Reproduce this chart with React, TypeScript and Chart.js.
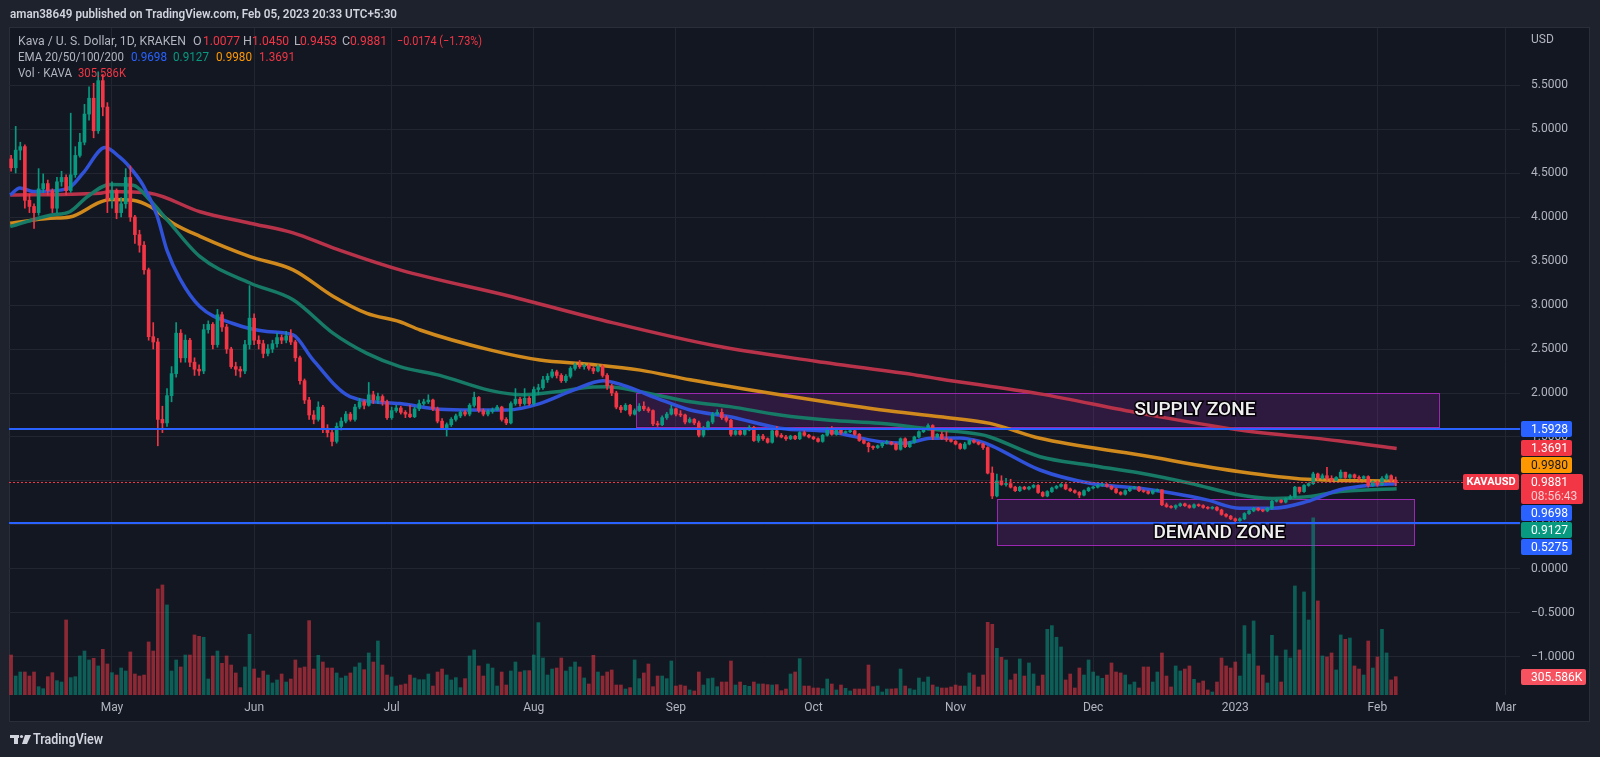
import React, { useEffect, useRef } from "react";
import { Chart, registerables } from "chart.js";
Chart.register(...registerables);

// ---- Daily candles, day 0 = 2022-04-09 ----
const firstOpen = 4.66;
const closes = [
  4.56, 4.76, 4.80, 4.19, 4.12, 4.05, 4.32, 4.38, 4.30, 4.10,
  4.40, 4.45, 4.30, 4.48, 4.70, 4.85, 5.17, 5.35, 4.98, 5.55,
  5.25, 4.20, 4.30, 4.05, 4.15, 4.45, 4.00, 3.80, 3.68, 3.40,
  2.64, 2.58, 1.70, 1.66, 1.97, 2.22, 2.68, 2.40, 2.60, 2.35,
  2.27, 2.25, 2.72, 2.78, 2.55, 2.89, 2.75, 2.50, 2.30, 2.27,
  2.25, 2.55, 2.85, 2.60, 2.56, 2.45, 2.50, 2.56, 2.63, 2.60,
  2.65, 2.58, 2.40, 2.14, 1.92, 1.75, 1.70, 1.84, 1.60, 1.55,
  1.45, 1.62, 1.68, 1.76, 1.70, 1.84, 1.90, 1.86, 1.98, 1.92,
  1.96, 1.90, 1.72, 1.80, 1.83, 1.78, 1.76, 1.73, 1.82, 1.88,
  1.90, 1.92, 1.82, 1.68, 1.60, 1.64, 1.70, 1.74, 1.78, 1.76,
  1.86, 1.95, 1.80, 1.76, 1.79, 1.81, 1.84, 1.70, 1.66, 1.88,
  1.93, 1.88, 1.94, 1.88, 2.04, 2.06, 2.15, 2.19, 2.24, 2.20,
  2.14, 2.19, 2.28, 2.32, 2.30, 2.31, 2.28, 2.25, 2.30, 2.20,
  2.08, 2.00, 1.84, 1.81, 1.86, 1.76, 1.80, 1.85, 1.82, 1.80,
  1.65, 1.64, 1.72, 1.76, 1.82, 1.76, 1.75, 1.67, 1.70, 1.66,
  1.52, 1.60, 1.67, 1.76, 1.78, 1.72, 1.69, 1.53, 1.57, 1.53,
  1.58, 1.61, 1.46, 1.51, 1.48, 1.44, 1.57, 1.52, 1.50, 1.48,
  1.51, 1.48, 1.55, 1.52, 1.50, 1.48, 1.45, 1.52, 1.59, 1.53,
  1.58, 1.55, 1.56, 1.57, 1.53, 1.46, 1.43, 1.39, 1.38, 1.40,
  1.43, 1.44, 1.42, 1.36, 1.48, 1.39, 1.44, 1.50, 1.56, 1.59,
  1.63, 1.50, 1.53, 1.48, 1.47, 1.45, 1.42, 1.37, 1.42, 1.46,
  1.44, 1.42, 1.38, 1.09, 0.83, 1.00, 0.96, 0.97, 0.93, 0.89,
  0.93, 0.91, 0.93, 0.95, 0.87, 0.83, 0.88, 0.92, 0.94, 0.96,
  0.91, 0.89, 0.87, 0.84, 0.89, 0.92, 0.93, 0.95, 0.96, 0.94,
  0.91, 0.87, 0.85, 0.89, 0.92, 0.93, 0.89, 0.88, 0.86, 0.89,
  0.90, 0.73, 0.71, 0.70, 0.72, 0.74, 0.72, 0.70, 0.73, 0.72,
  0.70, 0.69, 0.70, 0.67, 0.62, 0.60, 0.57, 0.55, 0.57, 0.63,
  0.66, 0.69, 0.67, 0.66, 0.69, 0.77, 0.78, 0.76, 0.80, 0.82,
  0.93, 0.88, 0.95, 0.97, 1.08, 1.03, 1.06, 1.03, 1.01, 1.04,
  1.10, 1.04, 1.07, 1.04, 1.03, 1.05, 0.95, 0.99, 0.96, 1.03,
  1.06, 1.0077, 0.9881,
];
const highs = [
  4.70, 5.03, 4.85, 4.82, 4.26, 4.15, 4.55, 4.49, 4.42, 4.32,
  4.45, 4.52, 4.48, 5.18, 4.80, 4.95, 5.28, 5.48, 5.52, 5.65,
  5.62, 5.30, 4.40, 4.32, 4.22, 4.55, 4.58, 4.02, 3.85, 3.72,
  3.42, 2.80, 2.62, 1.85, 2.05, 2.30, 2.80, 2.72, 2.66, 2.62,
  2.40, 2.32, 2.78, 2.82, 2.80, 2.95, 2.92, 2.78, 2.52, 2.35,
  2.30, 2.60, 3.22, 2.90, 2.65, 2.60, 2.55, 2.60, 2.68, 2.66,
  2.70, 2.72, 2.60, 2.42, 2.16, 1.95, 1.80, 1.90, 1.86, 1.64,
  1.58, 1.66, 1.72, 1.79, 1.78, 1.87, 1.94, 1.92, 2.12, 2.02,
  2.00, 1.98, 1.92, 1.84, 1.86, 1.85, 1.80, 1.86, 1.84, 1.92,
  1.93, 1.98, 1.93, 1.84, 1.71, 1.66, 1.72, 1.76, 1.80, 1.80,
  1.88, 2.01, 1.96, 1.82, 1.81, 1.83, 1.86, 1.85, 1.72, 1.90,
  2.05, 1.95, 2.05, 1.96, 2.07, 2.10, 2.19, 2.22, 2.27, 2.26,
  2.22, 2.21, 2.30, 2.34, 2.37, 2.33, 2.33, 2.30, 2.32, 2.32,
  2.22, 2.10, 2.02, 1.86, 1.88, 1.87, 1.82, 1.88, 1.90, 1.84,
  1.81, 1.68, 1.74, 1.78, 1.86, 1.83, 1.80, 1.76, 1.72, 1.71,
  1.68, 1.62, 1.68, 1.78, 1.81, 1.82, 1.74, 1.70, 1.59, 1.59,
  1.60, 1.63, 1.62, 1.53, 1.53, 1.49, 1.58, 1.62, 1.54, 1.52,
  1.52, 1.52, 1.56, 1.57, 1.53, 1.51, 1.49, 1.53, 1.61, 1.62,
  1.59, 1.60, 1.57, 1.58, 1.58, 1.54, 1.47, 1.44, 1.40, 1.41,
  1.44, 1.46, 1.45, 1.43, 1.49, 1.49, 1.45, 1.51, 1.57, 1.60,
  1.65, 1.64, 1.54, 1.56, 1.56, 1.48, 1.46, 1.43, 1.44, 1.47,
  1.47, 1.45, 1.43, 1.39, 1.16, 1.08, 1.06, 1.03, 1.02, 0.94,
  0.94, 0.94, 0.94, 0.96, 0.96, 0.88, 0.89, 0.93, 0.95, 0.97,
  0.97, 0.92, 0.90, 0.88, 0.90, 0.93, 0.94, 0.96, 0.97, 0.97,
  0.95, 0.92, 0.88, 0.90, 0.93, 0.94, 0.94, 0.90, 0.89, 0.90,
  0.91, 0.90, 0.75, 0.72, 0.73, 0.75, 0.75, 0.73, 0.74, 0.74,
  0.73, 0.71, 0.71, 0.71, 0.68, 0.63, 0.61, 0.58, 0.58, 0.64,
  0.67, 0.70, 0.70, 0.68, 0.70, 0.78, 0.79, 0.79, 0.81, 0.84,
  0.94, 0.93, 0.96, 0.98, 1.10, 1.09, 1.08, 1.155, 1.06, 1.05,
  1.125, 1.10, 1.08, 1.08, 1.06, 1.06, 1.06, 1.00, 1.00, 1.05,
  1.08, 1.07, 1.045,
];
const lows = [
  4.52, 4.50, 4.65, 4.10, 4.05, 3.87, 4.02, 4.28, 4.25, 4.05,
  4.05, 4.35, 4.25, 4.28, 4.45, 4.68, 4.82, 5.10, 4.90, 4.95,
  5.15, 4.05, 4.10, 3.98, 4.00, 4.10, 3.95, 3.70, 3.60, 3.35,
  2.60, 2.50, 1.40, 1.55, 1.62, 1.90, 2.18, 2.35, 2.35, 2.30,
  2.20, 2.20, 2.22, 2.68, 2.50, 2.52, 2.70, 2.45, 2.28, 2.20,
  2.18, 2.22, 2.50, 2.55, 2.50, 2.40, 2.42, 2.46, 2.52, 2.56,
  2.57, 2.55, 2.36, 2.10, 1.88, 1.70, 1.65, 1.68, 1.55, 1.50,
  1.40, 1.43, 1.58, 1.66, 1.68, 1.68, 1.82, 1.82, 1.85, 1.88,
  1.88, 1.86, 1.70, 1.70, 1.78, 1.76, 1.72, 1.72, 1.72, 1.80,
  1.86, 1.88, 1.80, 1.66, 1.60, 1.51, 1.62, 1.68, 1.72, 1.74,
  1.74, 1.84, 1.78, 1.74, 1.74, 1.77, 1.80, 1.68, 1.64, 1.65,
  1.86, 1.85, 1.86, 1.86, 1.86, 1.98, 2.04, 2.12, 2.17, 2.17,
  2.12, 2.12, 2.17, 2.26, 2.28, 2.27, 2.26, 2.22, 2.24, 2.18,
  2.04, 1.97, 1.82, 1.78, 1.80, 1.74, 1.75, 1.79, 1.80, 1.78,
  1.63, 1.62, 1.63, 1.70, 1.75, 1.74, 1.73, 1.65, 1.66, 1.64,
  1.50, 1.50, 1.58, 1.65, 1.75, 1.70, 1.67, 1.51, 1.52, 1.52,
  1.52, 1.57, 1.45, 1.44, 1.46, 1.43, 1.43, 1.50, 1.49, 1.46,
  1.47, 1.47, 1.47, 1.51, 1.49, 1.47, 1.44, 1.44, 1.51, 1.52,
  1.52, 1.53, 1.54, 1.55, 1.52, 1.45, 1.42, 1.33, 1.36, 1.37,
  1.38, 1.42, 1.41, 1.35, 1.35, 1.38, 1.38, 1.43, 1.49, 1.55,
  1.58, 1.47, 1.49, 1.47, 1.45, 1.44, 1.41, 1.36, 1.36, 1.41,
  1.43, 1.41, 1.36, 1.08, 0.80, 0.82, 0.95, 0.94, 0.92, 0.88,
  0.88, 0.90, 0.90, 0.92, 0.86, 0.82, 0.82, 0.87, 0.91, 0.93,
  0.90, 0.88, 0.86, 0.81, 0.83, 0.88, 0.91, 0.92, 0.94, 0.93,
  0.90, 0.86, 0.84, 0.84, 0.88, 0.91, 0.88, 0.87, 0.85, 0.85,
  0.88, 0.72, 0.70, 0.69, 0.68, 0.71, 0.71, 0.69, 0.69, 0.71,
  0.69, 0.68, 0.68, 0.66, 0.61, 0.59, 0.56, 0.53, 0.54, 0.56,
  0.62, 0.65, 0.66, 0.65, 0.65, 0.68, 0.76, 0.75, 0.75, 0.79,
  0.81, 0.86, 0.87, 0.94, 0.96, 1.01, 1.02, 1.01, 0.99, 1.00,
  1.03, 1.03, 1.03, 1.03, 1.01, 1.02, 0.93, 0.94, 0.94, 0.95,
  1.01, 0.99, 0.9453,
];
// volume in thousands of KAVA
const volumesK = [
  668, 317, 384, 384, 317, 384, 139, 106, 306, 373,
  240, 217, 1253, 290, 306, 652, 735, 585, 613, 485,
  763, 518, 373, 334, 451, 401, 719, 351, 317, 334,
  886, 735, 1771, 1838, 1504, 401, 585, 468, 668, 668,
  1003, 980, 964, 267, 652, 735, 529, 652, 501, 368,
  123, 468, 1014, 434, 284, 401, 334, 201, 251, 351,
  217, 267, 585, 451, 468, 1242, 434, 663, 551, 451,
  451, 368, 284, 317, 368, 468, 535, 423, 702, 551,
  902, 501, 334, 301, 150, 167, 184, 334, 284, 256,
  256, 351, 150, 384, 434, 334, 251, 290, 123, 273,
  652, 752, 485, 317, 518, 451, 150, 384, 167, 401,
  551, 384, 407, 407, 668, 1209, 618, 334, 434, 451,
  618, 401, 468, 551, 468, 284, 184, 663, 384, 317,
  384, 418, 167, 167, 100, 123, 585, 273, 368, 518,
  139, 317, 317, 273, 568, 150, 167, 150, 84, 67,
  384, 167, 273, 284, 139, 217, 217, 568, 167, 217,
  162, 145, 217, 184, 184, 173, 167, 173, 72, 100,
  351, 384, 607, 150, 150, 117, 117, 106, 267, 184,
  84, 167, 111, 67, 100, 100, 100, 501, 139, 150,
  50, 100, 100, 106, 434, 150, 106, 84, 284, 217,
  301, 167, 134, 117, 117, 134, 167, 150, 150, 368,
  334, 134, 334, 1214, 1181, 780, 629, 585, 251, 351,
  602, 317, 535, 351, 150, 334, 1097, 1159, 964, 802,
  251, 351, 117, 451, 334, 585, 384, 317, 279, 334,
  535, 384, 368, 334, 173, 217, 117, 468, 468, 217,
  384, 702, 317, 134, 485, 401, 434, 485, 262, 201,
  234, 84, 50, 217, 618, 485, 451, 551, 317, 1159,
  685, 1237, 485, 334, 201, 997, 652, 217, 752, 618,
  1821, 752, 1721, 1253, 2958, 1571, 652, 635, 702, 418,
  1003, 930, 952, 485, 434, 334, 902, 451, 635, 1097,
  702, 251, 305.586,
];

// EMA curves: [day, value]
const ema20Points = [
  [-0.2, 4.25], [1.9, 4.33], [4.8, 4.29], [12.2, 4.32], [15.7, 4.5], [20.5, 4.79], [23.7, 4.68],
  [25.3, 4.6], [28.8, 4.36], [31.8, 4.02], [34.0, 3.62], [36.8, 3.3], [41.2, 2.98], [48.4, 2.79],
  [55.8, 2.7], [61.5, 2.66], [65.8, 2.38], [73.9, 1.96], [84.8, 1.88], [93.5, 1.815], [100.7, 1.807],
  [108.2, 1.807], [115.3, 1.88], [122.5, 2.03], [129.1, 2.14], [133.4, 2.09], [140.9, 1.94],
  [148.1, 1.807], [156.8, 1.73], [167.7, 1.6], [178.6, 1.56], [189.5, 1.447], [195.0, 1.43],
  [200.4, 1.485], [206.9, 1.49], [211.3, 1.45], [213.9, 1.4], [224.4, 1.125], [235.3, 0.975],
  [246.2, 0.917], [253.4, 0.86], [260.8, 0.785], [268.0, 0.69], [275.2, 0.69], [282.6, 0.765],
  [289.8, 0.9], [297.0, 0.955], [302.2, 0.9698],
];
const ema50Points = [
  [-0.2, 3.89], [8.5, 4.02], [12.8, 4.06], [16.6, 4.23], [21.6, 4.37], [26.6, 4.36], [30.3, 4.19],
  [34.0, 3.97], [41.2, 3.55], [52.1, 3.25], [61.5, 3.06], [70.2, 2.68], [77.6, 2.45], [84.8, 2.3],
  [93.5, 2.2], [104.4, 2.03], [111.6, 1.98], [119.1, 2.015], [126.2, 2.065], [129.9, 2.07],
  [137.2, 2.015], [148.1, 1.9], [156.8, 1.845], [167.7, 1.75], [178.6, 1.69], [189.5, 1.655],
  [200.4, 1.59], [211.3, 1.53], [213.5, 1.5], [224.4, 1.276], [235.3, 1.18], [246.2, 1.09],
  [257.1, 0.975], [268.0, 0.84], [275.2, 0.8], [282.6, 0.82], [289.8, 0.88], [302.2, 0.9127],
];
const ema100Points = [
  [-0.2, 3.93], [8.5, 3.985], [12.8, 4.0], [19.4, 4.17], [21.6, 4.2], [26.6, 4.19], [30.3, 4.12],
  [35.3, 3.93], [41.2, 3.78], [52.1, 3.55], [61.5, 3.4], [70.2, 3.1], [77.6, 2.905], [84.8, 2.81],
  [89.2, 2.716], [104.4, 2.49], [115.3, 2.375], [126.2, 2.326], [137.2, 2.26], [148.1, 2.15],
  [167.7, 1.98], [189.5, 1.81], [202.6, 1.73], [213.5, 1.655], [224.4, 1.485], [246.2, 1.295],
  [268.0, 1.106], [282.6, 1.02], [302.2, 0.998],
];
const ema200Points = [
  [-0.2, 4.25], [19.4, 4.27], [21.6, 4.29], [30.3, 4.27], [41.2, 4.06], [52.1, 3.93], [61.5, 3.82],
  [70.2, 3.65], [84.8, 3.4], [108.8, 3.1], [131.1, 2.8], [153.3, 2.54], [175.5, 2.36], [197.8, 2.2],
  [202.6, 2.16], [224.4, 1.99], [246.2, 1.77], [268.0, 1.58], [289.8, 1.455], [302.2, 1.369],
];

const monthTickDays = [22, 53, 83, 114, 145, 175, 206, 236, 267, 298, 326];
const monthTickLabels = ["May", "Jun", "Jul", "Aug", "Sep", "Oct", "Nov", "Dec", "2023", "Feb", "Mar"];
const priceTicks = [-1, -0.5, 0, 0.5, 1, 1.5, 2, 2.5, 3, 3.5, 4, 4.5, 5, 5.5];

const levelPrices = [1.5928, 0.5275];
const zoneNames = ["SUPPLY ZONE", "DEMAND ZONE"];
const zoneStartDays = [136.3, 215.0];
const zoneEndDays = [311.4, 306.0];
const zoneTops = [2.0, 0.795];
const zoneBottoms = [1.617, 0.273];

const axisLabelValues = [1.5928, 1.3691, 0.998, 0.9698, 0.9127, 0.5275];
const lastClose = 0.9881;
const lastVolumeK = 305.586;

const GREEN = "#089981";
const RED = "#f23645";
const FONT = "Roboto, 'DejaVu Sans', sans-serif";

export default function App() {
  const ref = useRef<HTMLCanvasElement | null>(null);

  useEffect(() => {
    document.body.style.margin = "0";
    document.body.style.background = "#1e222d";
    const canvas = ref.current;
    if (!canvas) return;

    const opens = closes.map((_, i) => (i === 0 ? firstOpen : closes[i - 1]));
    const isUp = closes.map((c, i) => c >= opens[i]);
    const candleColors = isUp.map((u) => (u ? GREEN : RED));
    const volColors = isUp.map((u) => (u ? "rgba(8,153,129,0.55)" : "rgba(242,54,69,0.55)"));

    const labelColors = ["#2962ff", RED, "#ff9800", "#2962ff", GREEN, "#2962ff"];
    const labelText = ["#ffffff", "#ffffff", "#131722", "#ffffff", "#ffffff", "#ffffff"];

    const bgPlugin = {
      id: "bg",
      beforeDraw(chart: any) {
        const ctx = chart.ctx;
        ctx.save();
        ctx.fillStyle = "#1e222d";
        ctx.fillRect(0, 0, 1600, 757);
        ctx.fillStyle = "#131722";
        ctx.fillRect(9, 27, 1581, 695);
        ctx.strokeStyle = "#2a2e39";
        ctx.lineWidth = 1;
        ctx.strokeRect(9.5, 27.5, 1580, 694);
        ctx.restore();
      },
      beforeDatasetsDraw(chart: any) {
        const { ctx, chartArea, scales } = chart;
        const xs = scales.x, ys = scales.y;
        ctx.save();
        ctx.beginPath();
        ctx.rect(chartArea.left, chartArea.top, chartArea.right - chartArea.left, chartArea.bottom - chartArea.top);
        ctx.clip();
        for (let i = 0; i < zoneNames.length; i++) {
          const x1 = xs.getPixelForValue(zoneStartDays[i]);
          const x2 = xs.getPixelForValue(zoneEndDays[i]);
          const y1 = ys.getPixelForValue(zoneTops[i]);
          const y2 = ys.getPixelForValue(zoneBottoms[i]);
          ctx.fillStyle = "rgba(156,39,176,0.2)";
          ctx.fillRect(x1, y1, x2 - x1, y2 - y1);
          ctx.strokeStyle = "#9c27b0";
          ctx.lineWidth = 1;
          ctx.strokeRect(Math.round(x1) + 0.5, Math.round(y1) + 0.5, Math.round(x2 - x1), Math.round(y2 - y1));
        }
        ctx.restore();
      },
      afterDatasetsDraw(chart: any) {
        const { ctx, chartArea, scales } = chart;
        const xs = scales.x, ys = scales.y;
        ctx.save();
        ctx.beginPath();
        ctx.rect(chartArea.left, chartArea.top, chartArea.right - chartArea.left, chartArea.bottom - chartArea.top);
        ctx.clip();
        // level lines
        ctx.strokeStyle = "#2962ff";
        ctx.lineWidth = 2;
        for (const p of levelPrices) {
          const y = Math.round(ys.getPixelForValue(p));
          ctx.beginPath();
          ctx.moveTo(chartArea.left, y);
          ctx.lineTo(chartArea.right, y);
          ctx.stroke();
        }
        // last price dotted line
        const yc = Math.round(ys.getPixelForValue(lastClose)) + 0.5;
        ctx.strokeStyle = RED;
        ctx.lineWidth = 1;
        ctx.setLineDash([2, 2]);
        ctx.beginPath();
        ctx.moveTo(chartArea.left, yc);
        ctx.lineTo(1463, yc);
        ctx.stroke();
        ctx.setLineDash([]);
        // zone captions
        const capDays = [258.2, 263.5];
        const capPrices = [1.807, 0.403];
        ctx.font = `500 19px ${FONT}`;
        ctx.textAlign = "center";
        ctx.textBaseline = "middle";
        for (let i = 0; i < zoneNames.length; i++) {
          const x = xs.getPixelForValue(capDays[i]);
          const y = ys.getPixelForValue(capPrices[i]);
          ctx.lineWidth = 3;
          ctx.strokeStyle = "rgba(0,0,0,0.85)";
          ctx.strokeText(zoneNames[i], x, y);
          ctx.fillStyle = "#f0f0f0";
          ctx.fillText(zoneNames[i], x, y);
        }
        ctx.restore();
      },
      afterDraw(chart: any) {
        const { ctx, scales } = chart;
        const ys = scales.y, yv = scales.yv;
        ctx.save();
        ctx.textBaseline = "middle";
        ctx.textAlign = "left";
        const bx = 1521;
        const box = (top: number, w: number, h: number, bg: string) => {
          ctx.fillStyle = bg;
          ctx.beginPath();
          (ctx as any).roundRect ? (ctx as any).roundRect(bx, top, w, h, 2) : ctx.rect(bx, top, w, h);
          ctx.fill();
        };
        // close label
        const closeY = ys.getPixelForValue(lastClose);
        const closeTop = Math.round(closeY - 8);
        const closeBottom = closeTop + 30;
        box(closeTop, 62, 30, RED);
        ctx.font = `12px ${FONT}`;
        ctx.fillStyle = "#ffffff";
        ctx.fillText(lastClose.toFixed(4), 1531, closeTop + 8.5);
        ctx.fillStyle = "rgba(255,255,255,0.75)";
        ctx.fillText("08:56:43", 1531, closeTop + 22.5);
        // symbol label
        ctx.fillStyle = RED;
        ctx.beginPath();
        (ctx as any).roundRect ? (ctx as any).roundRect(1463, closeTop, 56, 16, 2) : ctx.rect(1463, closeTop, 56, 16);
        ctx.fill();
        ctx.fillStyle = "#ffffff";
        ctx.font = `bold 11px ${FONT}`;
        ctx.textAlign = "center";
        ctx.fillText("KAVAUSD", 1491, closeTop + 8.5);
        ctx.textAlign = "left";
        // other labels stacked around close label
        const idx = axisLabelValues.map((_, i) => i);
        const above = idx.filter((i) => axisLabelValues[i] > lastClose).sort((a, b) => axisLabelValues[a] - axisLabelValues[b]);
        const below = idx.filter((i) => axisLabelValues[i] <= lastClose).sort((a, b) => axisLabelValues[b] - axisLabelValues[a]);
        const tops: number[] = [];
        let limit = closeTop - 1;
        for (const i of above) {
          const nat = ys.getPixelForValue(axisLabelValues[i]) - 8;
          const t = Math.min(nat, limit - 16);
          tops[i] = t;
          limit = t - 1;
        }
        limit = closeBottom + 1;
        for (const i of below) {
          const nat = ys.getPixelForValue(axisLabelValues[i]) - 8;
          const t = Math.max(nat, limit);
          tops[i] = t;
          limit = t + 17;
        }
        ctx.font = `12px ${FONT}`;
        for (const i of idx) {
          const t = Math.round(tops[i]);
          box(t, 51, 16, labelColors[i]);
          ctx.fillStyle = labelText[i];
          ctx.fillText(axisLabelValues[i].toFixed(4), 1531, t + 8.5);
        }
        // volume label
        const vy = Math.round(yv.getPixelForValue(lastVolumeK) - 8);
        box(vy, 65, 16, "#f7525f");
        ctx.fillStyle = "#ffffff";
        ctx.fillText(lastVolumeK.toFixed(3) + "K", 1531, vy + 8.5);
        // USD
        ctx.fillStyle = "#b2b5be";
        ctx.fillText("USD", 1531, 40);

        // header
        ctx.font = `600 13px ${FONT}`;
        ctx.fillStyle = "#d1d4dc";
        ctx.fillText("aman38649 published on TradingView.com, Feb 05, 2023 20:33 UTC+5:30", 10, 15, 387);

        const seg = (t: string, x: number, y: number, c: string, mw?: number) => {
          ctx.fillStyle = c;
          if (mw) ctx.fillText(t, x, y, mw); else ctx.fillText(t, x, y);
        };
        ctx.font = `12.5px ${FONT}`;
        const G = "#b2b5be";
        seg("Kava / U. S. Dollar, 1D, KRAKEN", 18, 42, G, 168);
        seg("O", 193, 42, G); seg("1.0077", 203, 42, RED, 37);
        seg("H", 243, 42, G); seg("1.0450", 252, 42, RED, 37);
        seg("L", 294, 42, G); seg("0.9453", 300, 42, RED, 37);
        seg("C", 342, 42, G); seg("0.9881", 350, 42, RED, 37);
        seg("\u22120.0174 (\u22121.73%)", 397, 42, RED, 85);
        seg("EMA 20/50/100/200", 18, 58, G, 106);
        seg("0.9698", 131, 58, "#2962ff", 36);
        seg("0.9127", 173, 58, GREEN, 36);
        seg("0.9980", 216, 58, "#ff9800", 36);
        seg("1.3691", 259, 58, RED, 36);
        seg("Vol \u00b7 KAVA", 18, 74, G, 54);
        seg("305.586K", 78, 74, RED, 48);

        // TradingView logo
        ctx.fillStyle = "#d1d4dc";
        ctx.fillRect(10, 735, 9, 3);
        ctx.fillRect(14, 735, 4, 9);
        ctx.beginPath();
        ctx.arc(21.5, 736.5, 1.6, 0, Math.PI * 2);
        ctx.fill();
        ctx.beginPath();
        ctx.moveTo(25, 735);
        ctx.lineTo(31, 735);
        ctx.lineTo(27, 744);
        ctx.lineTo(22, 744);
        ctx.closePath();
        ctx.fill();
        ctx.font = `600 14px ${FONT}`;
        ctx.fillText("TradingView", 33, 740, 70);
        ctx.restore();
      },
    };

    const emaDs = (pts: number[][], color: string, order: number) => ({
      type: "line" as const,
      data: pts.map(([d, v]) => ({ x: d, y: v })),
      borderColor: color,
      borderWidth: 3.5,
      pointRadius: 0,
      cubicInterpolationMode: "monotone" as const,
      yAxisID: "y",
      order,
    });

    const chart = new Chart(canvas, {
      type: "bar",
      data: {
        datasets: [
          {
            type: "bar",
            data: closes.map((c, i) => ({ x: i, y: [opens[i], c] })) as any,
            backgroundColor: candleColors,
            barThickness: 3,
            minBarLength: 1,
            grouped: false,
            yAxisID: "y",
            order: 0,
          } as any,
          {
            type: "bar",
            data: closes.map((_, i) => ({ x: i, y: [lows[i], highs[i]] })) as any,
            backgroundColor: candleColors,
            barThickness: 1,
            grouped: false,
            yAxisID: "y",
            order: 1,
          } as any,
          emaDs(ema20Points, "#2f52d8", 2),
          emaDs(ema50Points, "#167a66", 3),
          emaDs(ema100Points, "#d0891c", 4),
          emaDs(ema200Points, "#b8334a", 5),
          {
            type: "bar",
            data: volumesK.map((v, i) => ({ x: i, y: v })) as any,
            backgroundColor: volColors,
            barThickness: 3,
            grouped: false,
            yAxisID: "yv",
            order: 10,
          } as any,
        ],
      },
      options: {
        responsive: false,
        devicePixelRatio: 1,
        animation: false,
        layout: { padding: { left: 9, right: 10, top: 28, bottom: 35 } },
        plugins: { legend: { display: false }, tooltip: { enabled: false } },
        scales: {
          x: {
            type: "linear",
            min: -0.46,
            max: 329.1,
            offset: false,
            grid: { color: "#222631", drawTicks: false, offset: false } as any,
            border: { display: false },
            afterBuildTicks: (s: any) => {
              s.ticks = monthTickDays.map((v) => ({ value: v }));
            },
            afterFit: (s: any) => {
              s.height = 27;
            },
            ticks: {
              autoSkip: false,
              maxRotation: 0,
              padding: 6,
              color: "#b2b5be",
              font: { family: FONT, size: 12 },
              callback: (v: any) => monthTickLabels[monthTickDays.indexOf(Number(v))] ?? "",
            },
          },
          y: {
            type: "linear",
            position: "right",
            min: -1.432,
            max: 6.148,
            grid: { color: "#222631", drawTicks: false },
            border: { display: false },
            afterBuildTicks: (s: any) => {
              s.ticks = priceTicks.map((v) => ({ value: v }));
            },
            afterFit: (s: any) => {
              s.width = 70;
            },
            ticks: {
              autoSkip: false,
              padding: 11,
              color: "#b2b5be",
              font: { family: FONT, size: 12 },
              callback: (v: any) => (Number(v) < 0 ? "\u2212" + Math.abs(Number(v)).toFixed(4) : Number(v).toFixed(4)),
            },
          },
          yv: {
            type: "linear",
            display: false,
            min: 0,
            max: 11139,
          },
        },
      } as any,
      plugins: [bgPlugin],
    });
    return () => chart.destroy();
  }, []);

  return (
    <div style={{ width: 1600, height: 757, background: "#1e222d" }}>
      <canvas ref={ref} width={1600} height={757} style={{ display: "block", width: 1600, height: 757 }} />
    </div>
  );
}
